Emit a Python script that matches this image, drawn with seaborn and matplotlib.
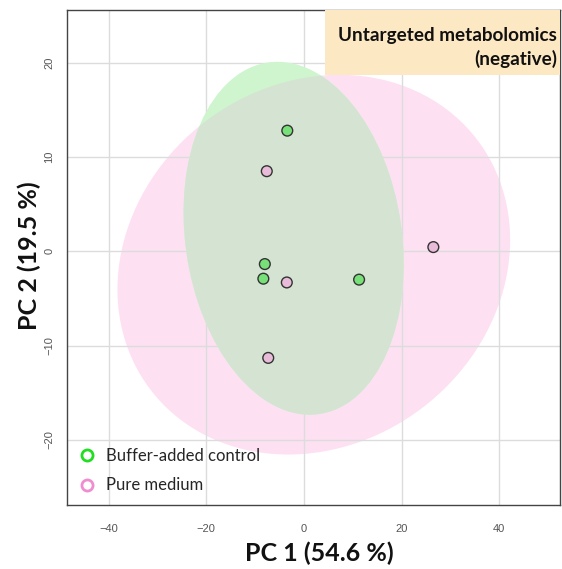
import numpy as np
import pandas as pd
import matplotlib
matplotlib.use("Agg")
import matplotlib.pyplot as plt
import seaborn as sns
from matplotlib.patches import Ellipse, Rectangle
from matplotlib.lines import Line2D

# PCA scores
groups = ["Buffer-added control", "Pure medium"]
buffer_pc1 = [-3.4, -8.0, -8.3, 11.3]
buffer_pc2 = [12.8, -1.35, -2.9, -3.0]
medium_pc1 = [-7.6, -3.5, -7.3, 26.5]
medium_pc2 = [8.5, -3.3, -11.3, 0.45]

x_ticks = [-40, -20, 0, 20, 40]
y_ticks = [-20, -10, 0, 10, 20]

df = pd.DataFrame({
    "PC1": buffer_pc1 + medium_pc1,
    "PC2": buffer_pc2 + medium_pc2,
    "group": [groups[0]] * len(buffer_pc1) + [groups[1]] * len(medium_pc1),
})

sns.set_theme(style="white")
plt.rcParams["font.family"] = ["Lato", "DejaVu Sans"]

fig = plt.figure(figsize=(5.62, 5.69), dpi=100)
ax = fig.add_axes([0.1192, 0.1125, 0.877, 0.870])


def conf_ellipse(xs, ys, **kw):
    # 95% confidence region from the group covariance
    pts = np.column_stack([xs, ys])
    mu = pts.mean(axis=0)
    cov = np.cov(pts, rowvar=False)
    vals, vecs = np.linalg.eigh(cov)
    k = np.sqrt(5.991)
    ang = np.degrees(np.arctan2(vecs[1, 1], vecs[0, 1]))
    return Ellipse(mu, 2 * k * np.sqrt(vals[1]), 2 * k * np.sqrt(vals[0]),
                   angle=ang, **kw)


pink_ell = conf_ellipse(medium_pc1, medium_pc2, facecolor="#fde1f3",
                        edgecolor="none", zorder=0.5)
green_ell = conf_ellipse(buffer_pc1, buffer_pc2, facecolor="#cff5cf",
                         edgecolor="none", zorder=0.6)
overlap = conf_ellipse(buffer_pc1, buffer_pc2, facecolor="#d5e4d2",
                       edgecolor="none", zorder=0.7)
ax.add_patch(pink_ell)
ax.add_patch(green_ell)
ax.add_patch(overlap)
overlap.set_clip_path(pink_ell)

ax.grid(True, color="#dcdcdc", linewidth=1, zorder=1)
ax.set_axisbelow(True)

sns.scatterplot(data=df, x="PC1", y="PC2", hue="group",
                palette={groups[0]: "#78e078", groups[1]: "#e8bcd8"},
                edgecolor="#333333", linewidth=1, s=60, legend=False,
                ax=ax, zorder=3)

ax.set_xlim(-48.5, 52.4)
ax.set_ylim(-26.9, 25.6)
ax.set_xticks(x_ticks)
ax.set_yticks(y_ticks)
ax.set_xlabel("")
ax.set_ylabel("")
ax.tick_params(direction="out", length=7, width=1, color="#444444",
               labelsize=8, labelcolor="#555555")
ax.tick_params(axis="x", pad=7)
ax.tick_params(axis="y", pad=2, labelrotation=90)
for lab in ax.get_xticklabels() + ax.get_yticklabels():
    lab.set_family(["Liberation Sans", "DejaVu Sans"])
for lab in ax.get_yticklabels():
    lab.set_va("center")
for sp in ax.spines.values():
    sp.set_color("#444444")
    sp.set_linewidth(1)

# title box
ax.add_patch(Rectangle((0.523, 0.869), 0.477, 0.131, transform=ax.transAxes,
                       facecolor="#fde8c4", edgecolor="none", zorder=4))
ax.text(0.994, 0.924, "Untargeted metabolomics\n(negative)",
        transform=ax.transAxes, ha="right", va="center", multialignment="right",
        fontsize=13.6, fontweight="bold", color="#111111", linespacing=1.35,
        zorder=5)

handles = [
    Line2D([], [], marker="o", linestyle="none", markerfacecolor="none",
           markeredgecolor="#22dd22", markeredgewidth=2, markersize=8),
    Line2D([], [], marker="o", linestyle="none", markerfacecolor="none",
           markeredgecolor="#f08cd0", markeredgewidth=2, markersize=8),
]
ax.legend(handles, groups, loc="lower left", bbox_to_anchor=(-0.01, -0.007),
          frameon=False, fontsize=12, handletextpad=0.55, labelspacing=0.8,
          handlelength=1.2, borderaxespad=0.5)

fig.text(0.569, 0.028, "PC 1 (54.6 %)", ha="center", va="center",
         fontsize=18, fontweight="bold", color="#111111")
fig.text(0.053, 0.55, "PC 2 (19.5 %)", ha="center", va="center",
         rotation=90, fontsize=18, fontweight="bold", color="#111111")

fig.savefig("out.png", dpi=100)
